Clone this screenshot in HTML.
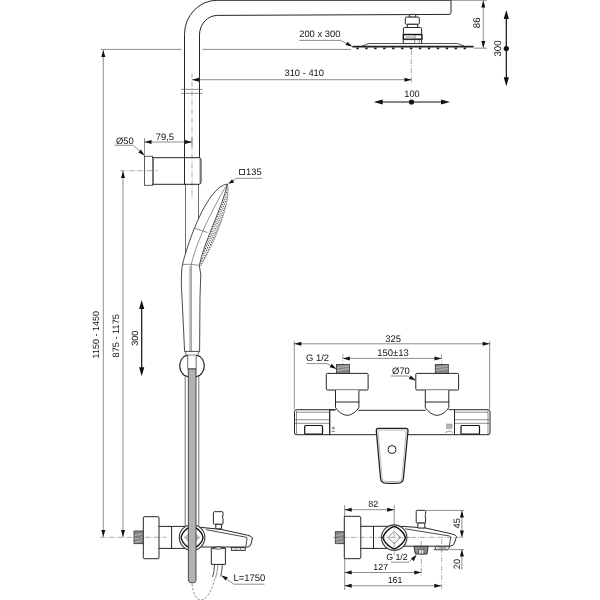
<!DOCTYPE html>
<html><head><meta charset="utf-8">
<style>
html,body{margin:0;padding:0;background:#fff;}
svg{display:block;filter:grayscale(1)}
text{font-family:"Liberation Sans",sans-serif;font-size:9.4px;fill:#111;text-rendering:geometricPrecision}
.o{stroke:#262626;stroke-width:1;fill:none;stroke-linejoin:round;stroke-linecap:round}
.of{stroke:#262626;stroke-width:1;fill:#fff;stroke-linejoin:round}
.g{stroke:#707070;stroke-width:1;fill:none}
.h{stroke:#2a2a2a;stroke-width:.85;fill:none;stroke-linejoin:round}
.t{stroke:#3c3c3c;stroke-width:.58;fill:none}
.c{stroke:#555;stroke-width:.5;fill:none;stroke-dasharray:5 1.5 1 1.5}
.a{fill:#111;stroke:none}
.b{stroke:#111;stroke-width:1.2;fill:none}
</style></head><body>
<svg width="600" height="600" viewBox="0 0 600 600">
<rect width="600" height="600" fill="#fff"/>

<!-- ===== LEFT: shower column ===== -->
<g id="column">
<!-- pipe top -->
<path class="o" d="M184.500 157V34.300A32.500 34 0 0 1 217 .300H451V12.400Q451 14.400 449 14.400L217.500 15.400A18 19.500 0 0 0 199.500 34.900V157"/>
<!-- break marks -->
<path class="t" d="M181 89.400H202.500M181 93.300H202.500"/>
<!-- pipe below holder -->
<path class="g" d="M185.5 184V352M198.5 184V352"/>
<!-- pipe below ball -->
<path class="g" d="M185.2 375V527M198.8 375V527"/>
<!-- centerline pipe -->
<path class="c" d="M192 73V199"/>
<!-- holder -->
<rect x="144.500" y="156.300" width="8.200" height="29" fill="#fff" stroke="#4a4a4a" stroke-width=".9"/>
<path class="o" d="M152.700 157.700H199Q201 157.700 201 160V182Q201 184.300 199 184.300H152.700"/>
<path d="M153.400 158V184" stroke="#777" stroke-width="1.200"/><path class="t" d="M200 159V183"/>
<path class="o" d="M184.500 157.700V184.300"/>
<path class="c" d="M120 170.700H158"/>
</g>

<!-- hand shower -->
<g id="handshower">
<defs><clipPath id="nz"><path d="M227.500 184C222.500 207 203.500 243 199.300 265.500L200.500 266C213 246 231.500 203 227.500 184Z"/></clipPath></defs>
<path d="M227.500 184C207 186 187 245 182.500 264.500C181 272 181.200 285 182 297L184.600 351.400H199.600L200 297L200.800 275L199.300 265.500C203 248 224 212 227.500 184Z" fill="#fff"/>
<g clip-path="url(#nz)" stroke="#3a3a3a" fill="none" stroke-width="1.100">
<path d="M227.500 184C222.500 207 203.500 243 199.300 265.500" transform="translate(1.300 .45)" stroke-dasharray="1.100 1.500"/>
<path d="M227.500 184C222.500 207 203.500 243 199.300 265.500" transform="translate(2.900 1)" stroke-dasharray="1.100 1.500" stroke-dashoffset="1.300"/>
<path d="M227.500 184C222.500 207 203.500 243 199.300 265.500" transform="translate(4.500 1.550)" stroke-dasharray="1.100 1.500"/>
<path d="M227.500 184C222.500 207 203.500 243 199.300 265.500" transform="translate(6 2.050)" stroke-dasharray="1.100 1.500" stroke-dashoffset="1.300"/>
</g>
<path class="h" d="M227.500 184C207 186 187 245 182.500 264.500C181 272 181.200 285 182 297L184.600 351.400H199.600L200 297L200.800 275L199.300 265.500"/>
<path class="h" d="M227.500 184C222.500 207 203.500 243 199.300 265.500"/>
<path d="M200.500 266C213 246 231.500 203 227.500 184" fill="none" stroke="#555" stroke-width=".5"/>
<path class="t" d="M227.500 184C219 197 197 238 191.300 264.500V351.400"/>
<path class="t" d="M190 266V351.400" stroke="#888"/>
<path class="t" d="M182.500 264.500Q191 263.500 199.300 265.500"/>
<path class="t" d="M195 228.300L207.500 232.500"/>
</g>

<!-- holder ball + hose -->
<g id="ball">
<path d="M187.600 355.300L184.200 356.400A12.200 12.200 0 0 0 184.200 375.200L188 376.700H196.200L199.800 375.200A12.200 12.200 0 0 0 199.800 356.400L196.300 355.300Z" fill="#fff" stroke="#222" stroke-width="1.200" stroke-linejoin="round"/>
<path d="M185.300 351.400L186.400 355.300M199 351.400L197.900 355.300" stroke="#444" stroke-width=".8" fill="none"/>
<path d="M187.700 355.300V368.900H196.200V355.300" fill="#fff" stroke="#444" stroke-width=".8"/>
</g>

<!-- bottom mixer side view (left) -->
<g id="mixerL">
<rect x="134" y="531" width="9.300" height="12.700" fill="#868686" stroke="#333" stroke-width=".8"/>
<path d="M134.500 535.500L143 533.500M134.500 539L143 537M134.500 542.500L143 540.500" stroke="#c4c4c4" stroke-width=".8"/>
<rect class="of" x="143.300" y="516.700" width="15.700" height="42" rx="1"/>
<path class="o" d="M159 526.400H186M159 548.400H186M171.600 526.400V548.400"/>
<path class="c" d="M100 537.300H166"/>
<!-- spout -->
<path class="of" d="M199 527.200L221 529.400L247.500 535.200Q252 536.300 252.400 538L251.300 543Q250.500 546.500 248 547H199Z"/>
<path class="h" d="M205.800 529.600L246 537.200Q247.300 537.600 247 539L245.800 546.500"/>
<!-- diverter knob -->
<path class="of" d="M214.400 511.700H222Q223 511.700 223 512.700V516L222.300 517L223 518.500V523.300Q223 524.300 222 524.300H214.400Q213.400 524.300 213.400 523.300V512.700Q213.400 511.700 214.400 511.700Z"/>
<rect class="of" x="215.800" y="524.300" width="5.700" height="4.500"/>
<!-- aerator -->
<rect x="231.300" y="547.500" width="14" height="2.900" fill="#ddd" stroke="#222" stroke-width=".8"/>
<path d="M236 548V550M240.500 548V550" stroke="#555" stroke-width=".6"/>
<!-- hose connector -->
<path class="of" d="M211.300 548.200Q218.300 545.200 225.400 548.200V564.400H211.300Z"/>
<path class="h" d="M211.300 548.200Q218.300 550.200 225.400 548.200"/>
<path class="h" d="M214.500 564.500Q214.500 572 212.500 577M222.300 564.500Q222.300 570 220.700 576.500"/>
<path class="t" d="M217.800 565Q217.600 572 215.500 578" stroke="#777"/>
<path class="t" stroke-dasharray="2.500 1.500" d="M192 584C193 593 196 600 201 600C207 600 212 590 215 578"/>
<!-- circle -->
<circle cx="192.100" cy="537.500" r="12.800" fill="#fff" stroke="#3a3a3a" stroke-width="1.100"/>
<path d="M203.00 537.50L202.88 538.36L202.54 539.51L201.97 540.78L201.21 542.08L200.26 543.36L199.17 544.57L197.96 545.66L196.68 546.61L195.38 547.37L194.11 547.94L192.96 548.28L192.10 548.40L191.24 548.28L190.09 547.94L188.82 547.37L187.52 546.61L186.24 545.66L185.03 544.57L183.94 543.36L182.99 542.08L182.23 540.78L181.66 539.51L181.32 538.36L181.20 537.50L181.32 536.64L181.66 535.49L182.23 534.22L182.99 532.92L183.94 531.64L185.03 530.43L186.24 529.34L187.52 528.39L188.82 527.63L190.09 527.06L191.24 526.72L192.10 526.60L192.96 526.72L194.11 527.06L195.38 527.63L196.68 528.39L197.96 529.34L199.17 530.43L200.26 531.64L201.21 532.92L201.97 534.22L202.54 535.49L202.88 536.64Z" fill="#fff" stroke="#111" stroke-width="1.400" stroke-linejoin="round"/>
<path d="M188.400 533.500V541.500L183.500 537.500ZM195.900 533.500V541.500L200.500 537.500Z" fill="#bbb"/>
</g>

<path d="M188.300 369H196V580Q195.800 583 192.100 583Q188.400 583 188.400 580Z" fill="#b2b2b2" stroke="#3a3a3a" stroke-width=".9"/>
<!-- ===== dims left ===== -->
<g id="dimsL">
<path class="t" d="M100.500 49.400H181.500M202.500 49.400H351"/>
<path class="t" d="M103.300 50V537M123 171V537"/>
<path class="a" d="M103.300 50l-2 7h4zM103.300 537l-2 -7h4zM123 171l-2 7h4zM123 537l-2 -7h4z"/>
<text transform="translate(98.90 358.40) rotate(-90)" style="font-size:9.0px">1150 - 1450</text>
<text transform="translate(119.40 357.40) rotate(-90)" style="font-size:9.2px">875 - 1175</text>
<text transform="translate(137.80 345.80) rotate(-90)" style="font-size:9.1px">300</text>
<path class="b" d="M141.700 306V370"/>
<path class="a" d="M141.700 300l-2.600 9h5.200zM141.700 376.300l-2.600 -9h5.200z"/>
<!-- 79,5 -->
<path class="t" d="M144.500 138V156M192 138V146M144.500 142H192"/>
<path class="a" d="M144.500 142l7 -2v4zM192 142l-7 -2v4z"/>
<text x="155.71" y="139.50" style="font-size:9.4px">79,5</text>
<!-- Ø50 -->
<text x="115.97" y="143.50" style="font-size:9.4px">Ø50</text>
<path class="t" d="M114.700 145.300H133.300L144 155"/>
<path class="a" d="M144.500 155.500l-6.200 -3 2.700 -3z"/>
<!-- □135 -->
<rect x="239.600" y="169.400" width="5" height="5" fill="none" stroke="#111" stroke-width=".8"/>
<text x="246.05" y="174.80" style="font-size:9.4px">135</text>
<path class="t" d="M262 178.300H236.300L229 183.200"/>
<path class="a" d="M228.300 183.800l3.700 -4.600 2.200 3.200z"/>
<!-- 310-410 -->
<path class="t" d="M192 79.700H411.500"/>
<path class="a" d="M192 79.700l7 -2v4zM411.500 79.700l-7 -2v4z"/>
<text x="284.44" y="76.10" style="font-size:9.4px">310 - 410</text>
<!-- 200x300 -->
<text x="299.19" y="37.40" style="font-size:9.4px">200 x 300</text>
<path class="t" d="M299.300 40.400H340.700L351 46"/>
<path class="a" d="M352.300 46.600l-6.800 -1.500 2 -3.400z"/>
<!-- L=1750 -->
<text x="233.42" y="581.00" style="font-size:9.5px">L=1750</text>
<path class="t" d="M264.500 584.200H234L222.500 576.300"/>
<path class="a" d="M221.300 575.500l6.600 1.700 -2.300 3.200z"/>
</g>

<!-- ===== shower head ===== -->
<g id="head">
<path class="c" d="M411.300 50V84"/>
<rect class="of" x="409.300" y="14.400" width="6.400" height="2.800"/>
<rect class="of" x="405.300" y="17.100" width="14" height="7.200" rx="1"/>
<rect class="of" x="407.300" y="24.300" width="10.400" height="3.200"/>
<rect class="of" x="403.400" y="27.500" width="18.200" height="6.900" rx="1"/>
<rect x="403.300" y="34.600" width="18.600" height="4.600" fill="#fff" stroke="#111" stroke-width="1.400"/>
<rect x="405.500" y="35.700" width="9" height="2.400" fill="#ccc"/>
<path class="t" d="M415 35V39"/>
<rect class="of" x="403.300" y="39.600" width="18.300" height="4"/>
<path class="t" d="M414.700 40V43.500M419.300 40V43.500"/>
<path d="M353 46.700H473L464 46L457.500 43.500H369L362 46Z" fill="#fff" stroke="none"/>
<path d="M362 46L369 43.500H457.500L464 46" fill="none" stroke="#2a2a2a" stroke-width=".8"/>
<path d="M353 46.700H473" stroke="#222" stroke-width="1.700" stroke-linecap="round"/>
<path d="M356.300 48.400H468" stroke="#222" stroke-width="1.800" stroke-dasharray="2.400 6.540"/>
<!-- 86 -->
<path class="t" d="M451 .300H487M474 48.200H487M483.300 1V48"/>
<path class="a" d="M483.300 .5l-2 7h4zM483.300 48l-2 -7h4z"/>
<text transform="translate(480.20 28.18) rotate(-90)" style="font-size:9.7px">86</text>
<!-- 300 -->
<path class="b" d="M506.300 16V80"/>
<path class="a" d="M506.300 10l-2.600 9h5.200zM506.300 86.300l-2.600 -9h5.200z"/>
<circle class="a" cx="506.300" cy="48.500" r="2.600"/>
<text transform="translate(501.00 56.60) rotate(-90)" style="font-size:9.7px">300</text>
<!-- 100 -->
<path class="b" d="M380 102H444"/>
<path class="a" d="M373.700 102l9 -2.600v5.200zM450 102l-9 -2.600v5.200z"/>
<circle class="a" cx="411.500" cy="102" r="2.600"/>
<text x="404.27" y="96.80" style="font-size:9.2px">100</text>
</g>

<!-- ===== front view mixer ===== -->
<g id="front">
<!-- dims -->
<path class="t" d="M294.300 341V409M489.700 341V409M294.300 343.800H489.700"/>
<path class="a" d="M294.300 343.800l7 -2v4zM489.700 343.800l-7 -2v4z"/>
<text x="385.17" y="341.70" style="font-size:9.5px">325</text>
<path class="t" d="M342.800 358.400H441.500"/>
<path class="c" d="M342.800 354V378M441.500 354V378"/>
<path class="a" d="M342.800 358.400l7 -2v4zM441.500 358.400l-7 -2v4z"/>
<text x="377.23" y="355.90" style="font-size:9.5px">150±13</text>
<text x="306.11" y="361.40" style="font-size:9.4px">G 1/2</text>
<path class="t" d="M306.600 363.600H327L335.800 368.600"/>
<path class="a" d="M336.500 369l-6.800 -1.700 2 -3.500z"/>
<text x="392.12" y="374.20" style="font-size:9.4px">Ø70</text>
<path class="t" d="M391 376H407L415 380"/>
<path class="a" d="M415.700 380.400l-6.800 -1.400 1.900 -3.500z"/>
<!-- stubs -->
<rect x="336.400" y="364.400" width="13" height="9.200" fill="#868686" stroke="#333" stroke-width=".8"/><path d="M337 367.700L349 365.700M337 370.600L349 368.600" stroke="#c4c4c4" stroke-width=".8"/>
<rect x="435.300" y="364.400" width="13" height="9.200" fill="#868686" stroke="#333" stroke-width=".8"/><path d="M436 367.700L448 365.700M436 370.600L448 368.600" stroke="#c4c4c4" stroke-width=".8"/>
<!-- rosettes -->
<rect class="of" x="326.300" y="373.400" width="41.800" height="16.600" rx="1"/>
<rect class="of" x="415.800" y="373.400" width="42.800" height="16.600" rx="1"/>
<!-- necks -->
<path class="of" d="M335.500 390.200V407.500C338 411.500 343 415.300 347.200 415.300C351.500 415.300 356.500 411.500 358.900 407.500V390.200"/>
<path class="o" d="M335.500 402H358.900"/>
<path class="of" d="M425.300 390.200V407.500C427.800 411.500 432.800 415.300 437.100 415.300C441.400 415.300 446.400 411.500 448.800 407.500V390.200"/>
<path class="o" d="M425.300 402H448.800"/>
<!-- body -->
<path class="o" d="M358.900 410.300H425.300"/>
<path class="o" d="M329.700 434.700H376.500M408 434.700H454.500"/>
<!-- left handle -->
<path class="of" d="M296.300 409.700H335.400V410H329.700V434.700H296.300Q294.500 434.700 294.500 433V411.500Q294.500 409.700 296.300 409.700Z"/>
<path class="o" d="M329.700 409.700V434.700"/>
<path class="t" d="M296.500 412.200H329.500M295 419.700H329.500M295 423.300H329.500M296.500 410.500V434"/>
<rect x="304.700" y="425.500" width="17.800" height="8.700" rx="1" fill="#fff" stroke="#111" stroke-width="1.200"/>
<!-- right handle -->
<path class="of" d="M454.500 409.700H488Q490 409.700 490 411.500V433Q490 434.700 488 434.700H454.500Z"/>
<path class="o" d="M449 409.700H454.500"/>
<path class="t" d="M454.500 412.200H488M454.500 419.700H489.500M454.500 423.300H489.500M488 410.500V434"/>
<rect x="461" y="425.500" width="18.500" height="8.700" rx="1" fill="#fff" stroke="#111" stroke-width="1.200"/>
<!-- symbols -->
<rect x="446.700" y="425" width="5.300" height="3.400" fill="#b8b8b8" stroke="#888" stroke-width=".5"/><path d="M446 424.200H452.700" stroke="#777" stroke-width=".7" fill="none"/><path d="M445.500 432.600L449.500 430.800L453 432.600" stroke="#666" stroke-width=".7" fill="none"/>
<path class="t" d="M331.500 428H335M333.300 426.500V430M331.500 431.500H335" stroke="#999"/>
<!-- centre handle -->
<path d="M378.500 428.300H406Q408 428.300 408 430.500L403.500 478Q403 483.300 397 483.300H387Q381 483.300 380.500 478L376.300 430.500Q376.300 428.300 378.500 428.300Z" fill="#fff" stroke="#222" stroke-width="1.300"/>
<path d="M379.500 430H405Q406.300 430 406.200 431.500L402 477Q401.500 481.500 397 481.500H387Q382.500 481.500 382 477L378 431.500Q378 430 379.500 430Z" fill="none" stroke="#888" stroke-width=".6"/>
<circle cx="392" cy="449.500" r="4" fill="#fff" stroke="#222" stroke-width="1"/>
</g>

<!-- ===== side view mixer right ===== -->
<g id="side">
<rect x="335.300" y="531.700" width="9" height="12" fill="#868686" stroke="#333" stroke-width=".8"/><path d="M335.800 536L344 534M335.800 539.500L344 537.500M335.800 543L344 541" stroke="#c4c4c4" stroke-width=".8"/>
<path class="of" d="M344.300 516.300H359Q360.800 516.300 360.800 518V557Q360.800 558.700 359 558.700H344.300Z"/>
<path class="o" d="M360.800 526.300H388M360.800 548.400H388M373.500 526.300V548.400"/>
<path class="c" d="M333 537.400H385"/>
<!-- spout -->
<path class="of" d="M401.300 526.300L425 527.900L450 533.500Q456 534.700 456.500 536.500L454.400 543Q453.500 545.800 450 546.200H401.300Z"/>
<path class="h" d="M405 528.800L449.500 536Q451 536.400 450.700 537.800L449.300 545.700"/>
<path class="c" d="M402 537.400H465"/>
<!-- knob -->
<path class="of" d="M417.200 510.300H424.600Q425.600 510.300 425.600 511.300V514.500L424.900 515.500L425.600 517V522.100Q425.600 523.100 424.600 523.100H417.200Q416.200 523.100 416.200 522.100V511.300Q416.200 510.300 417.200 510.300Z"/>
<rect class="of" x="417.800" y="523.100" width="7" height="4.900"/>
<!-- connector -->
<path d="M414 546.300H428.100L427 554H415.300Z" fill="#8c8c8c" stroke="#222" stroke-width=".9"/>
<rect x="418.700" y="549.400" width="5.200" height="4.600" fill="#e4e4e4" stroke="#333" stroke-width=".6"/>
<!-- aerator -->
<path d="M436 546.300H450L448 549.800H434.400Z" fill="#ddd" stroke="#222" stroke-width=".8"/>
<path d="M439 547.900H446" stroke="#555" stroke-width=".7"/>
<!-- circle -->
<circle cx="394.200" cy="537.600" r="12.700" fill="#fff" stroke="#333" stroke-width="1.100"/>
<path d="M405.30 537.60L405.17 538.27L404.78 539.32L404.15 540.55L403.30 541.87L402.27 543.20L401.08 544.48L399.80 545.67L398.47 546.70L397.15 547.55L395.92 548.18L394.87 548.57L394.20 548.70L393.53 548.57L392.48 548.18L391.25 547.55L389.93 546.70L388.60 545.67L387.32 544.48L386.13 543.20L385.10 541.87L384.25 540.55L383.62 539.32L383.23 538.27L383.10 537.60L383.23 536.93L383.62 535.88L384.25 534.65L385.10 533.33L386.13 532.00L387.32 530.72L388.60 529.53L389.93 528.50L391.25 527.65L392.48 527.02L393.53 526.63L394.20 526.50L394.87 526.63L395.92 527.02L397.15 527.65L398.47 528.50L399.80 529.53L401.08 530.72L402.27 532.00L403.30 533.33L404.15 534.65L404.78 535.88L405.17 536.93Z" fill="#fff" stroke="#111" stroke-width="1.500" stroke-linejoin="round"/>
<path d="M394.200 531.300L400.400 537.500L394.200 543.700L388 537.500Z" fill="none" stroke="#666" stroke-width=".8" stroke-linejoin="round"/>
<path class="c" d="M380 537.400H410M394.200 524V555"/>
<path class="c" d="M421.300 541V576M441.700 539V590"/>
<!-- dims -->
<path class="t" d="M344.700 505V517M344.700 559V590M394.200 505V524M344.700 509.700H394.200"/>
<path class="a" d="M344.700 509.700l7 -2v4zM394.200 509.700l-7 -2v4z"/>
<text x="368.36" y="506.80" style="font-size:9.0px">82</text>
<text x="386.19" y="560.10" style="font-size:8.8px">G 1/2</text>
<path class="t" d="M391 562.200H408.500L416 555.500"/>
<path class="a" d="M416.500 555l-2.700 6.300 -2.800 -3z"/>
<path class="t" d="M344.700 572.500H421.300M344.700 585.800H441.300"/>
<path class="a" d="M344.700 572.500l7 -2v4zM421.300 572.500l-7 -2v4zM344.700 585.800l7 -2v4zM441.300 585.800l-7 -2v4z"/>
<text x="373.35" y="570.10" style="font-size:8.8px">127</text>
<text x="387.70" y="583.10" style="font-size:8.8px">161</text>
<!-- 45 / 20 -->
<path class="t" d="M426 510.400H464M449.500 549.600H464M461.900 510.400V537.400M461.900 549.600V569.700"/>
<path class="a" d="M461.900 510.400l-2 7h4zM461.900 537.400l-2 -7h4zM461.900 549.600l-2 7h4z"/>
<text transform="translate(459.70 528.46) rotate(-90)" style="font-size:9.2px">45</text>
<text transform="translate(459.70 569.21) rotate(-90)" style="font-size:9.2px">20</text>
</g>
</svg>
</body></html>
